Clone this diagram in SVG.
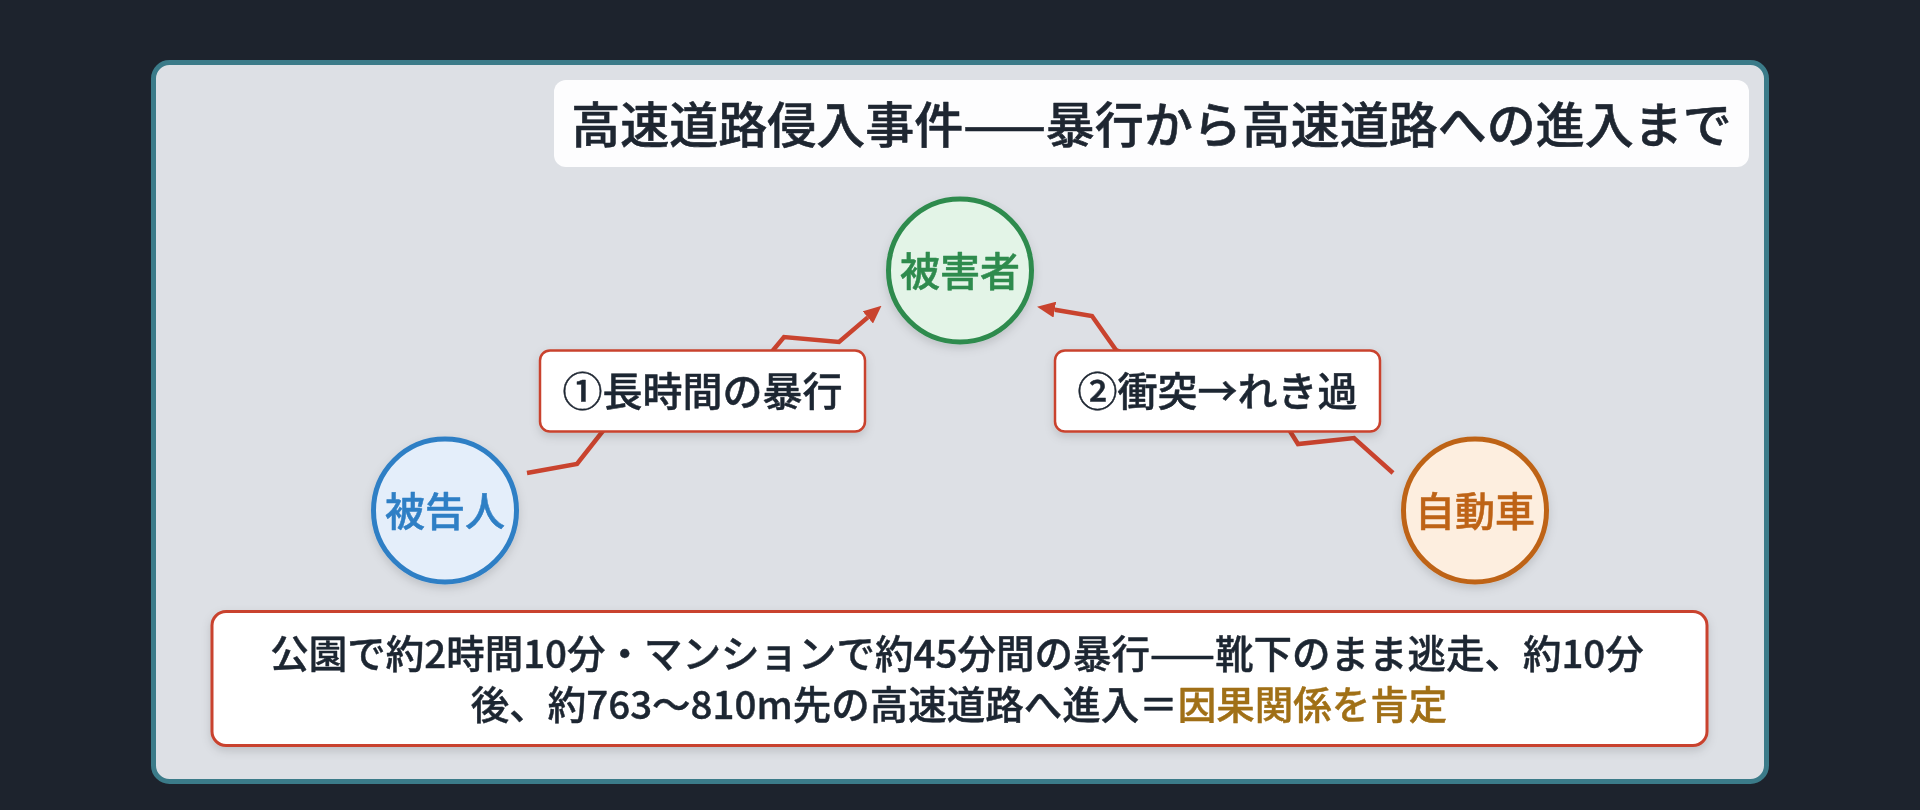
<svg xmlns="http://www.w3.org/2000/svg" width="1920" height="810" viewBox="0 0 1920 810">
  <style>
    .jp { font-family: "Noto Sans CJK JP", "Noto Sans", "Liberation Sans", sans-serif; font-weight: 500; stroke-linejoin: round; }
    .title { font-size: 49px; fill: #1e2631; stroke: #1e2631; stroke-width: 0.6px; }
    .node-text { font-size: 40px; text-anchor: middle; stroke-width: 0.5px; }
    .label-box { fill: #ffffff; stroke: #c9432e; stroke-width: 2.5; }
    .label-text { font-size: 40px; fill: #1e2631; stroke: #1e2631; stroke-width: 0.5px; text-anchor: middle; }
    .conn { fill: none; stroke: #c9432e; stroke-width: 4.5; stroke-linejoin: miter; stroke-linecap: butt; }
    .body-text { font-size: 38.5px; fill: #1e2631; stroke: #1e2631; stroke-width: 0.45px; text-anchor: middle; }
    .hl { fill: #a06f16; stroke: #a06f16; }
  </style>
  <defs>
    <filter id="shadow" x="-20%" y="-20%" width="140%" height="150%">
      <feDropShadow dx="0" dy="4" stdDeviation="5" flood-color="#000000" flood-opacity="0.14"/>
    </filter>
    <marker id="arrow" markerUnits="userSpaceOnUse" markerWidth="18" markerHeight="16" viewBox="0 0 18 16" refX="0" refY="8" orient="auto">
      <path d="M0,0 L18,8 L0,16 z" fill="#c9432e"/>
    </marker>
  </defs>

  <rect x="0" y="0" width="1920" height="810" fill="#1d232d"/>

  <g id="panel">
    <rect x="153.5" y="62.5" width="1613" height="719" rx="16" ry="16" fill="#dde0e5" stroke="#3b7b89" stroke-width="5"/>
  </g>

  <g id="title">
    <rect x="554" y="80" width="1195" height="87" rx="12" ry="12" fill="#fdfdfe"/>
    <text class="jp title" x="1151.5" y="143" text-anchor="middle">高速道路侵入事件——暴行から高速道路への進入まで</text>
  </g>

  <g id="connectors">
    <path class="conn" d="M527,473 L577,464 L606,427 L770,354 L784,337 L839,342 L867.8,317.4" marker-end="url(#arrow)"/>
    <path class="conn" d="M1393,473 L1354,438 L1298,444 L1288,428 L1116,350 L1092,316 L1054.8,309.7" marker-end="url(#arrow)"/>
  </g>

  <g id="node-victim" filter="url(#shadow)">
    <circle cx="960" cy="270.5" r="71.5" fill="#e3f4e7" stroke="#2e8b4e" stroke-width="5"/>
    <text class="jp node-text" x="960" y="286" fill="#2e8b4e" stroke="#2e8b4e">被害者</text>
  </g>

  <g id="node-defendant" filter="url(#shadow)">
    <circle cx="445" cy="510.5" r="71.5" fill="#e4eefa" stroke="#2f7fc5" stroke-width="5"/>
    <text class="jp node-text" x="445" y="526" fill="#2f7fc5" stroke="#2f7fc5">被告人</text>
  </g>

  <g id="node-car" filter="url(#shadow)">
    <circle cx="1475" cy="510.5" r="71.5" fill="#fdeedf" stroke="#be6418" stroke-width="5"/>
    <text class="jp node-text" x="1475" y="526" fill="#be6418" stroke="#be6418">自動車</text>
  </g>

  <g id="label-assault" filter="url(#shadow)">
    <rect class="label-box" x="540" y="350.5" width="325" height="81" rx="10" ry="10"/>
    <text class="jp label-text" x="702.5" y="406">①長時間の暴行</text>
  </g>

  <g id="label-collision" filter="url(#shadow)">
    <rect class="label-box" x="1055" y="350.5" width="325" height="81" rx="10" ry="10"/>
    <text class="jp label-text" x="1217.5" y="406">②衝突→れき過</text>
  </g>

  <g id="summary" filter="url(#shadow)">
    <rect x="212" y="611.5" width="1495" height="134" rx="14" ry="14" fill="#ffffff" stroke="#c9432e" stroke-width="3"/>
    <text class="jp body-text" x="957" y="668">公園で約2時間10分・マンションで約45分間の暴行——靴下のまま逃走、約10分</text>
    <text class="jp body-text" x="959" y="719">後、約763〜810m先の高速道路へ進入＝<tspan class="hl">因果関係を肯定</tspan></text>
  </g>
</svg>
